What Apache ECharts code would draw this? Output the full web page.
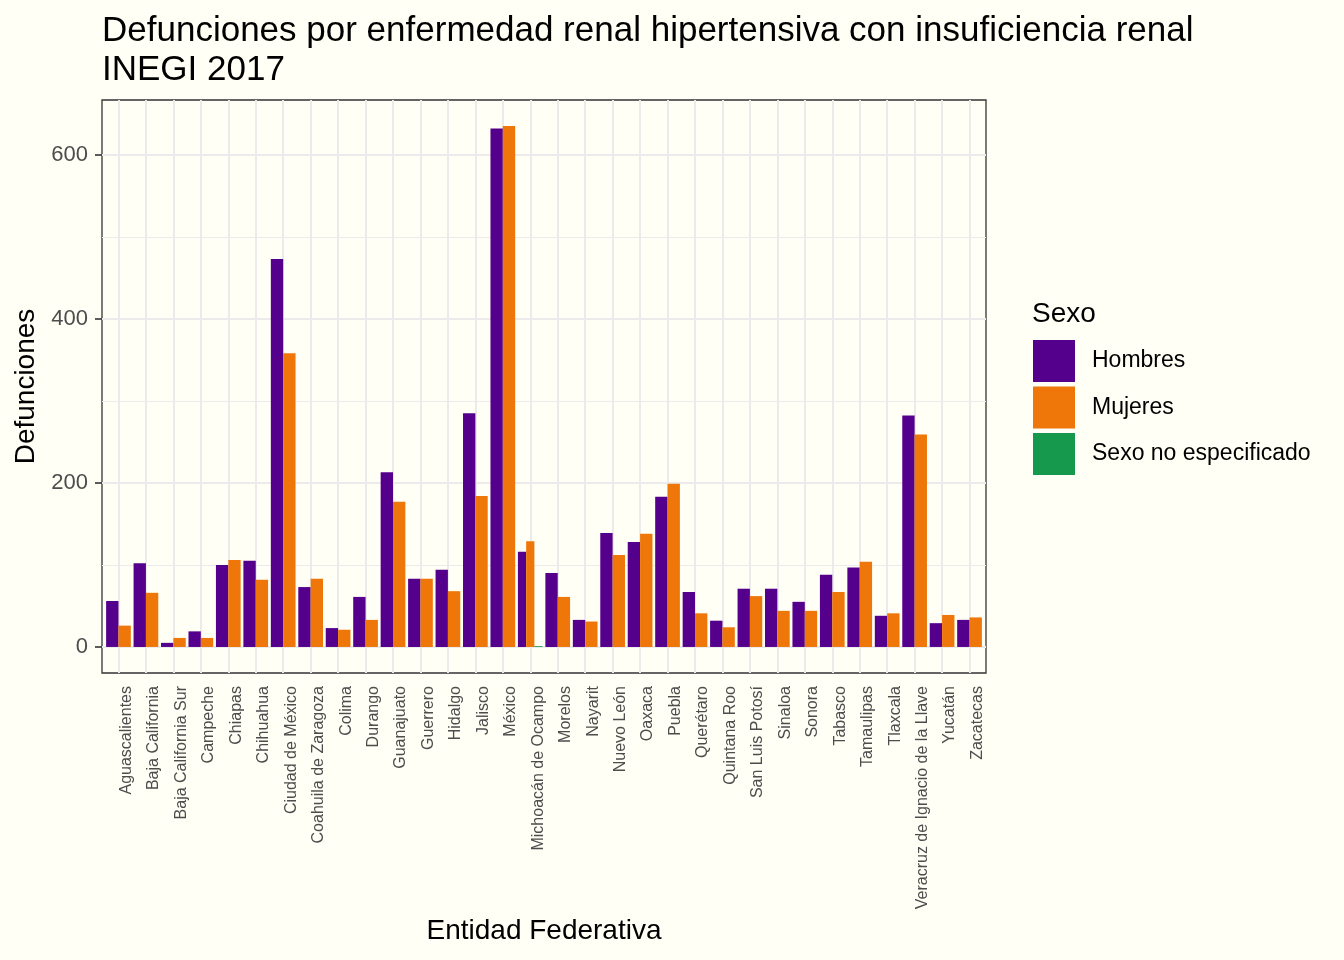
<!DOCTYPE html>
<html>
<head>
<meta charset="utf-8">
<script src="https://cdn.jsdelivr.net/npm/echarts@6/dist/echarts.min.js"></script>
<style>
html,body{margin:0;padding:0;background:#FFFFF5;}
#chart{width:1344px;height:960px;}
</style>
</head>
<body>
<div id="chart"></div>
<script>
// ---- Data ----
const categories = ["Aguascalientes","Baja California","Baja California Sur","Campeche","Chiapas","Chihuahua","Ciudad de México","Coahuila de Zaragoza","Colima","Durango","Guanajuato","Guerrero","Hidalgo","Jalisco","México","Michoacán de Ocampo","Morelos","Nayarit","Nuevo León","Oaxaca","Puebla","Querétaro","Quintana Roo","San Luis Potosí","Sinaloa","Sonora","Tabasco","Tamaulipas","Tlaxcala","Veracruz de Ignacio de la Llave","Yucatán","Zacatecas"];
const hombres = [56,102,5,19,100,105,473,73,23,61,213,83,94,285,632,116,90,33,139,128,183,67,32,71,71,55,88,97,38,282,29,33];
const mujeres = [26,66,11,11,106,82,358,83,21,33,177,83,68,184,635,129,61,31,112,138,199,41,24,62,44,44,67,104,41,259,39,36];
const noEspecificado = [null,null,null,null,null,null,null,null,null,null,null,null,null,null,null,1,null,null,null,null,null,null,null,null,null,null,null,null,null,null,null,null];
const seriesNames = ["Hombres","Mujeres","Sexo no especificado"];
const yTicks = [0,200,400,600];
const yMinor = [100,300,500];

const allSeries = [hombres, mujeres, noEspecificado];
const colors = ["#55008C","#EF7709","#16994C"];

// build dodge data: [position, value, slot, nSlots]
function buildData(sIdx){
  const out = [];
  categories.forEach((c,i)=>{
    const present = allSeries.map(s=>s[i]!=null);
    const n = present.filter(Boolean).length;
    if (allSeries[sIdx][i]==null) return;
    let slot = 0;
    for (let k=0;k<sIdx;k++) if (present[k]) slot++;
    out.push([i+1, allSeries[sIdx][i], slot, n]);
  });
  return out;
}
function renderBar(params, api){
  const pos = api.value(0), v = api.value(1), slot = api.value(2), n = api.value(3);
  const base = api.coord([pos, 0]);
  const top = api.coord([pos, v]);
  const unit = api.size([1,0])[0];
  const gw = unit*0.9;
  const w = gw/n;
  const x0 = base[0] - gw/2 + slot*w;
  return {type:'rect', shape:{x:x0, y:top[1], width:w, height:base[1]-top[1]}, style:{fill:api.visual('color')}};
}

const xPositions = categories.map((c,i)=>i+1);
const ymax = 635*1.05, ymin = -635*0.05;

const font = "'Liberation Sans', Arial, Helvetica, sans-serif";
const chart = echarts.init(document.getElementById('chart'), null, {renderer:'canvas'});
const gridLines = []
  .concat(yMinor.map(v=>({yAxis:v, lineStyle:{color:'#EBEBEB', width:1, type:'solid'}})))
  .concat(yTicks.map(v=>({yAxis:v, lineStyle:{color:'#EBEBEB', width:2, type:'solid'}})))
  .concat(xPositions.map(p=>({xAxis:p, lineStyle:{color:'#EBEBEB', width:2, type:'solid'}})));

chart.setOption({
  backgroundColor:'#FFFFF5',
  animation:false,
  textStyle:{fontFamily:font},
  title:[
    {text:'Defunciones por enfermedad renal hipertensiva con insuficiencia renal\nINEGI 2017', left:97, top:7,
     textStyle:{fontFamily:font, fontSize:35, fontWeight:'normal', color:'#000', lineHeight:39}},
    {text:'Sexo', left:1027, top:295, textStyle:{fontFamily:font, fontSize:28, fontWeight:'normal', color:'#000'}}
  ],
  legend:{
    orient:'vertical', left:1028, top:335, icon:'rect', itemWidth:42, itemHeight:42, itemGap:4.5,
    data:seriesNames, selectedMode:false,
    textStyle:{fontFamily:font, fontSize:23, color:'#000', padding:[0,0,0,12]}
  },
  grid:{left:102, top:100, width:884, height:573, show:true, backgroundColor:'#FFFFF5', borderColor:'#333333', borderWidth:1.3},
  xAxis:{
    type:'value', min:0.4, max:32.6,
    name:'Entidad Federativa', nameLocation:'middle', nameGap:242,
    nameTextStyle:{fontFamily:font, fontSize:28, color:'#000'},
    axisLine:{show:false},
    axisTick:{show:true, length:7, lineStyle:{color:'#333333', width:1.6}, customValues:xPositions},
    axisLabel:{customValues:xPositions, rotate:90, margin:13, fontSize:16, color:'#4D4D4D', fontFamily:font,
      verticalAlign:'top', formatter:(v)=>categories[Math.round(v)-1] || ''},
    splitLine:{show:false}
  },
  yAxis:{
    type:'value', min:ymin, max:ymax,
    name:'Defunciones', nameLocation:'middle', nameGap:62, nameRotate:90,
    nameTextStyle:{fontFamily:font, fontSize:28, color:'#000'},
    axisLine:{show:false},
    axisTick:{show:true, length:7, lineStyle:{color:'#333333', width:1.6}, customValues:yTicks},
    axisLabel:{customValues:yTicks, margin:14, fontSize:22, color:'#4D4D4D', fontFamily:font},
    splitLine:{show:false}
  },
  series:[
    {type:'line', name:'grid', data:[], silent:true, z:1,
     markLine:{silent:true, z:1, symbol:['none','none'], label:{show:false}, animation:false, data:gridLines}},
    {type:'custom', name:seriesNames[0], renderItem:renderBar, data:buildData(0), encode:{x:0,y:1}, itemStyle:{color:colors[0]}, z:2},
    {type:'custom', name:seriesNames[1], renderItem:renderBar, data:buildData(1), encode:{x:0,y:1}, itemStyle:{color:colors[1]}, z:2},
    {type:'custom', name:seriesNames[2], renderItem:renderBar, data:buildData(2), encode:{x:0,y:1}, itemStyle:{color:colors[2]}, z:2}
  ]
});
</script>
</body>
</html>
